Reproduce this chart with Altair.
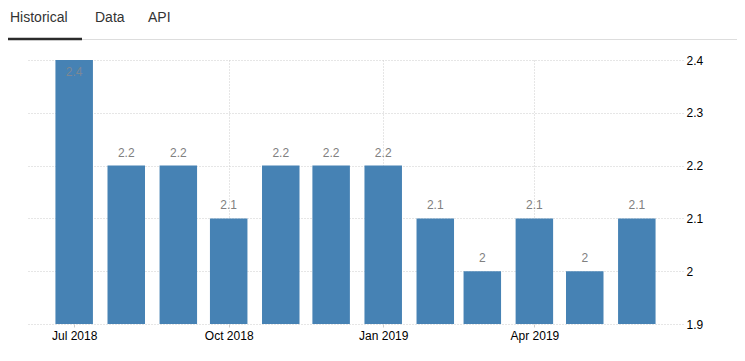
import altair as alt
import pandas as pd

months = ["2018-07-01T00:00:00", "2018-08-01T00:00:00", "2018-09-01T00:00:00",
          "2018-10-01T00:00:00", "2018-11-01T00:00:00", "2018-12-01T00:00:00",
          "2019-01-01T00:00:00", "2019-02-01T00:00:00", "2019-03-01T00:00:00",
          "2019-04-01T00:00:00", "2019-05-01T00:00:00", "2019-06-01T00:00:00"]
values = [2.4, 2.2, 2.2, 2.1, 2.2, 2.2, 2.2, 2.1, 2.0, 2.1, 2.0, 2.1]
labels = ["2.4", "2.2", "2.2", "2.1", "2.2", "2.2", "2.2", "2.1", "2", "2.1", "2", "2.1"]
tabs = ["Historical", "Data", "API"]
y_ticks = [1.9, 2.0, 2.1, 2.2, 2.3, 2.4]

df = pd.DataFrame({"date": months, "value": values, "label": labels})

x_scale = alt.Scale(domain=[alt.DateTime(year=2018, month=6, date=3, hours=12),
                            alt.DateTime(year=2019, month=6, date=28, hours=12)],
                    nice=False, padding=0)
y_scale = alt.Scale(domain=[1.9, 2.4], zero=False, nice=False, padding=0)

x_enc = alt.X("date:T", scale=x_scale, title=None,
              axis=alt.Axis(values=[alt.DateTime(year=2018, month=7, date=1),
                                    alt.DateTime(year=2018, month=10, date=1),
                                    alt.DateTime(year=2019, month=1, date=1),
                                    alt.DateTime(year=2019, month=4, date=1)],
                            format="%b %Y", labelFont="Liberation Sans", labelFontSize=12,
                            labelColor="#000", domain=False, ticks=True, tickSize=3,
                            tickColor="#cccccc", labelPadding=3,
                            grid=True, gridColor="#cccccc", gridDash=[1, 2]))
y_enc = alt.Y("value:Q", scale=y_scale, title=None,
              axis=alt.Axis(orient="right", values=y_ticks,
                            labelExpr="datum.value == 2 ? '2' : format(datum.value, '.1f')",
                            labelFont="Liberation Sans", labelFontSize=12, labelColor="#000",
                            domain=False, ticks=False, labelPadding=3,
                            grid=True, gridColor="#cccccc", gridDash=[1, 2]))

base = alt.Chart(df).encode(x=x_enc, y=y_enc)

bars = base.mark_bar(color="#4682B4", size=37.5, clip=True)

text_above = base.transform_filter("datum.value < 2.4").mark_text(
    font="Liberation Sans", fontSize=12, color="#808080", baseline="middle", dy=-13
).encode(text="label:N")

text_inside = base.transform_filter("datum.value >= 2.4").mark_text(
    font="Liberation Sans", fontSize=12, color="#7d8894", baseline="middle", dy=12
).encode(text="label:N")

one = alt.Data(values=[{}])
tab_x = [-18, 67, 120]
tab_layers = []
for name, xv in zip(tabs, tab_x):
    tab_layers.append(alt.Chart(one).mark_text(
        text=name, font="Liberation Sans", fontSize=14, color="#333333",
        align="left", baseline="middle").encode(x=alt.value(xv), y=alt.value(-42)))

gray_line = alt.Chart(one).mark_rule(color="#dddddd", strokeWidth=1).encode(
    x=alt.value(-20), x2=alt.value(720), y=alt.value(-20.5))
dark_line = alt.Chart(one).mark_rule(color="#2b2b2b", strokeWidth=2.5).encode(
    x=alt.value(-20), x2=alt.value(54), y=alt.value(-21))

chart = alt.layer(gray_line, dark_line, bars, text_above, text_inside, *tab_layers).properties(
    width=655, height=264,
    autosize=alt.AutoSizeParams(type="none"),
    padding={"left": 20, "top": 52, "right": 54, "bottom": 30},
    background="white",
).configure_view(strokeWidth=0, stroke="transparent")

chart.save("out.html", embed_options={"renderer": "svg", "actions": False})
